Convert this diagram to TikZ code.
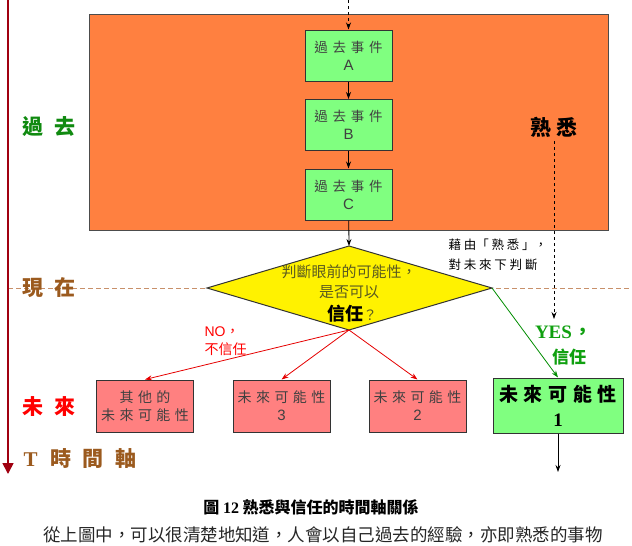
\documentclass[tikz,border=0pt]{standalone}
\usepackage{fontspec}
\setmainfont{Noto Sans CJK TC}
\newfontfamily\cjk{Noto Sans CJK TC}
\newfontfamily\serifb{Liberation Serif}
\newfontfamily\arialf{Liberation Sans}
\usetikzlibrary{arrows.meta}
\newcommand{\gp}[1]{\hspace{#1em}}
\definecolor{orangefill}{HTML}{FF8040}
\definecolor{evgreen}{HTML}{80FF80}
\definecolor{pinkred}{HTML}{FF8080}
\definecolor{browntext}{HTML}{9B5A1E}
\definecolor{browndash}{HTML}{C8906A}
\definecolor{pastgreen}{HTML}{108A10}
\definecolor{yesgreen}{HTML}{10A010}
\definecolor{axisred}{HTML}{A00010}
\definecolor{dtext}{HTML}{5A5A20}
\tikzset{
  box/.style={draw=black!80, line width=1pt, align=center, minimum height=52pt,
    inner sep=1pt, text=black!75, font=\cjk\fontsize{13.5}{18}\selectfont},
  evbox/.style={box, fill=evgreen, minimum width=87pt, minimum height=51pt},
  futbox/.style={box, fill=pinkred, minimum width=97pt, font=\cjk\fontsize{14}{18}\selectfont},
  arr/.style={-{Stealth[length=7pt,width=5pt]}, line width=0.8pt},
  sidelabel/.style={font=\cjk\bfseries\fontsize{21}{24}\selectfont},
}
\begin{document}
\begin{tikzpicture}[x=1pt,y=-1pt]
\useasboundingbox (0,0) rectangle (632,546);
\clip (0,0) rectangle (632,546);
% present line
\coordinate (nowL) at (8,288);
\coordinate (nowR) at (632,288);
\draw[browndash, line width=1pt, dash pattern=on 5pt off 3pt] (nowL) -- (nowR);
% time axis
\coordinate (axtop) at (8,0);
\coordinate (axbot) at (8,474);
\draw[axisred, line width=1.6pt, -{Triangle[length=11pt,width=11pt]}] (axtop) -- (axbot);
% past box
\node[draw=black!70, line width=0.8pt, fill=orangefill, minimum width=519pt, minimum height=216pt, inner sep=0pt] (past) at (348.5,122) {};
\node[evbox] (A) at (348.5,55.5) {過\gp{.35}去\gp{.35}事\gp{.35}件\\{\arialf\fontsize{15}{18}\selectfont A}};
\node[evbox] (B) at (348.5,125) {過\gp{.35}去\gp{.35}事\gp{.35}件\\{\arialf\fontsize{15}{18}\selectfont B}};
\node[evbox] (C) at (348.5,194.5) {過\gp{.35}去\gp{.35}事\gp{.35}件\\{\arialf\fontsize{15}{18}\selectfont C}};
\coordinate (top) at (348.5,0);
\draw[arr, dashed] (top) -- (A);
\draw[arr] (A) -- (B);
\draw[arr] (B) -- (C);
% familiar
\node[font=\cjk\bfseries\fontsize{21}{24}\selectfont] (fam) at (554,127) {熟\gp{.2}悉};
\node[font=\cjk\fontsize{12.5}{20}\selectfont, align=left, anchor=west] (via) at (445,255) {藉 由「 熟 悉 」，\\對 未 來 下 判 斷};
% diamond
\coordinate (dtop) at (349,246);
\coordinate (dright) at (492,288);
\coordinate (dbot) at (349,330);
\coordinate (dleft) at (207,288);
\draw[arr] (C) -- (dtop);
\draw[draw=black!80, line width=1pt, fill=yellow] (dtop) -- (dright) -- (dbot) -- (dleft) -- cycle;
\node[text=dtext, font=\cjk\fontsize{15}{16}\selectfont] (q1) at (349,272) {判斷眼前的可能性，};
\node[text=dtext, font=\cjk\fontsize{15}{16}\selectfont] (q2) at (349,292) {是否可以};
\node[font=\cjk\fontsize{14}{16}\selectfont, text=dtext] (q3) at (352,314) {{\color{black}\bfseries\fontsize{18}{20}\selectfont 信任}？};
\coordinate (famstart) at (554,141);
\coordinate (famend) at (554,319);
\draw[arr, dashed, line width=0.7pt] (famstart) -- (famend);
% future boxes
\node[futbox] (other) at (145,406) {其\gp{.32}他\gp{.32}的\\未\gp{.32}來\gp{.32}可\gp{.32}能\gp{.32}性};
\node[futbox] (f3) at (281.5,406) {未\gp{.32}來\gp{.32}可\gp{.32}能\gp{.32}性\\{\arialf\fontsize{15}{18}\selectfont 3}};
\node[futbox] (f2) at (417.5,406) {未\gp{.32}來\gp{.32}可\gp{.32}能\gp{.32}性\\{\arialf\fontsize{15}{18}\selectfont 2}};
\node[box, fill=evgreen, minimum width=130pt, minimum height=55pt, text=black, font=\cjk\bfseries\fontsize{19}{25}\selectfont] (f1) at (558,405.5) {未\gp{.3}來\gp{.3}可\gp{.3}能\gp{.3}性\\{\serifb\bfseries 1}};
\coordinate (f1end) at (558,472);
\draw[arr, red!90!black] (dbot) -- (other.north);
\draw[arr, red!90!black] (dbot) -- (f3.north);
\draw[arr, red!90!black] (dbot) -- (f2.north);
\draw[arr, green!55!black] (dright) -- (f1.north);
\draw[arr] (f1) -- (f1end);
% labels
\node[red, anchor=west, align=left, font=\cjk\fontsize{14}{18}\selectfont] (no) at (201,341) {{\arialf NO}，\\不信任};
\node[yesgreen, font=\serifb\bfseries\fontsize{19}{22}\selectfont] (yes) at (564,332) {YES\hspace{2pt}{\cjk，}};
\node[yesgreen, font=\cjk\bfseries\fontsize{17}{20}\selectfont] (trust) at (569,357) {信任};
\node[sidelabel, pastgreen] (lpast) at (49,127) {過\gp{.55}去};
\node[sidelabel, browntext] (lnow) at (49,288) {現\gp{.55}在};
\node[sidelabel, red] (lfut) at (49,407) {未\gp{.55}來};
\node[sidelabel, browntext, anchor=west] (laxis) at (20,459) {{\serifb\bfseries T}\gp{.6}時\gp{.55}間\gp{.55}軸};
% caption
\node[font=\cjk\bfseries\fontsize{16}{18}\selectfont] (cap) at (311,507) {圖 {\serifb\bfseries 12} 熟悉與信任的時間軸關係};
\node[font=\cjk\fontsize{17.5}{20}\selectfont, text=black!85] (body) at (323,535) {從上圖中，可以很清楚地知道，人會以自己過去的經驗，亦即熟悉的事物};
\end{tikzpicture}
\end{document}
